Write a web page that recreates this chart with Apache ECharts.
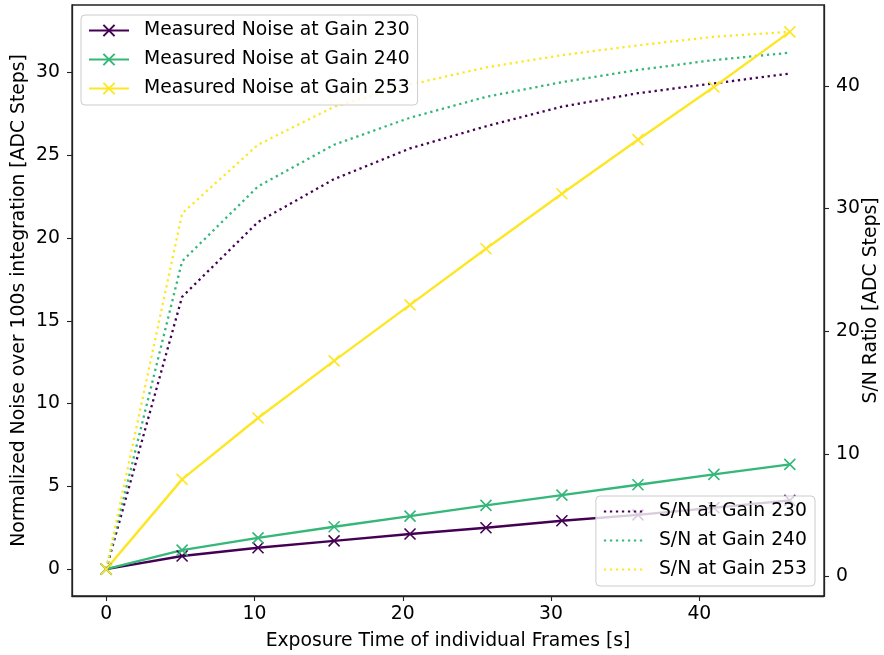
<!DOCTYPE html>
<html>
<head>
<meta charset="utf-8">
<script src="https://cdn.jsdelivr.net/npm/echarts@6/dist/echarts.min.js"></script>
<style>
html,body{margin:0;padding:0;background:#fff;}
#chart{width:884px;height:655px;}
</style>
</head>
<body>
<div id="chart"></div>
<script>
// ---- data ----
const exposureTime = [0, 5.12, 10.24, 15.37, 20.49, 25.61, 30.73, 35.86, 40.98, 46.1];
const noiseGain230 = [0, 0.79, 1.29, 1.71, 2.12, 2.50, 2.92, 3.28, 3.71, 4.15];
const noiseGain240 = [0, 1.15, 1.89, 2.56, 3.20, 3.85, 4.47, 5.10, 5.72, 6.33];
const noiseGain253 = [0, 5.42, 9.13, 12.58, 15.96, 19.35, 22.67, 25.94, 29.12, 32.45];
const snGain230 = [0.6, 22.8, 28.9, 32.4, 34.9, 36.7, 38.3, 39.4, 40.2, 41.0];
const snGain240 = [0.6, 25.7, 31.8, 35.2, 37.4, 39.1, 40.3, 41.3, 42.1, 42.7];
const snGain253 = [0.6, 29.6, 35.2, 38.3, 40.1, 41.5, 42.5, 43.3, 44.0, 44.4];
const xTicks = [0, 10, 20, 30, 40];
const yLeftTicks = [0, 5, 10, 15, 20, 25, 30];
const yRightTicks = [0, 10, 20, 30, 40];
const noiseNames = ['Measured Noise at Gain 230', 'Measured Noise at Gain 240', 'Measured Noise at Gain 253'];
const snNames = ['S/N at Gain 230', 'S/N at Gain 240', 'S/N at Gain 253'];
const colors = ['#440154', '#35b779', '#fde725'];

// ---- helpers ----
function pairs(xs, ys) { return xs.map((x, i) => [x, ys[i]]); }
function padRange(vals) {
  const lo = Math.min(...vals), hi = Math.max(...vals), r = hi - lo;
  return [lo - 0.05 * r, hi + 0.05 * r];
}
const xr = padRange(exposureTime);
const yl = padRange([].concat(noiseGain230, noiseGain240, noiseGain253));
const yr = padRange([].concat(snGain230, snGain240, snGain253));

const FONT = 'DejaVu Sans';
const FS = 18.8;
const axisCol = '#222';
const xMarker = 'path://M0,0L10,10M10,0L0,10';

function noiseSeries(name, vals, c) {
  return {
    name: name, type: 'line', xAxisIndex: 0, yAxisIndex: 0,
    data: pairs(exposureTime, vals),
    symbol: xMarker, symbolSize: 11, showSymbol: true,
    lineStyle: { color: c, width: 2.4 },
    itemStyle: { color: c, borderColor: c, borderWidth: 1.6 },
    emphasis: { disabled: true }, animation: false, z: 3
  };
}
function snSeries(name, vals, c) {
  return {
    name: name, type: 'line', xAxisIndex: 0, yAxisIndex: 1,
    data: pairs(exposureTime, vals),
    symbol: 'none', showSymbol: false,
    lineStyle: { color: c, width: 2.3, type: [2.3, 3.7], cap: 'butt' },
    itemStyle: { color: c },
    emphasis: { disabled: true }, animation: false, z: 2
  };
}

const legendCommon = {
  orient: 'vertical',
  itemWidth: 40, itemHeight: 14, itemGap: 10,
  backgroundColor: 'rgba(255,255,255,0.8)',
  borderColor: '#cccccc', borderWidth: 1, borderRadius: 4,
  textStyle: { fontFamily: FONT, fontSize: FS, color: '#000', padding: [0, 0, 0, 10], lineHeight: 18 },
  selectedMode: false
};

const option = {
  animation: false,
  backgroundColor: '#fff',
  grid: { left: 72, right: 60, top: 5, bottom: 59, show: true, borderColor: axisCol, borderWidth: 1.3, containLabel: false, outerBoundsMode: 'none' },
  textStyle: { fontFamily: FONT },
  legend: [
    Object.assign({}, legendCommon, {
      data: noiseNames, left: 81, top: 15, padding: [6, 8, 7, 7]
    }),
    Object.assign({}, legendCommon, {
      data: snNames.map(n => ({ name: n, itemStyle: { opacity: 0 } })),
      right: 69, bottom: 69, padding: [6, 8, 7, 7]
    })
  ],
  xAxis: [{
    type: 'value', min: xr[0], max: xr[1],
    name: 'Exposure Time of individual Frames [s]', nameLocation: 'middle', nameGap: 36,
    nameMoveOverlap: false,
    nameTextStyle: { fontFamily: FONT, fontSize: FS, color: '#000' },
    axisLine: { show: true, onZero: false, lineStyle: { color: axisCol, width: 1.3 } },
    axisTick: { show: true, length: 5, lineStyle: { color: axisCol, width: 1.1 }, customValues: xTicks },
    axisLabel: { fontFamily: FONT, fontSize: FS, color: '#000', margin: 9, customValues: xTicks },
    splitLine: { show: false }
  }],
  yAxis: [{
    type: 'value', position: 'left', min: yl[0], max: yl[1],
    name: 'Normalized Noise over 100s integration [ADC Steps]', nameLocation: 'middle', nameGap: 43,
    nameMoveOverlap: false,
    nameTextStyle: { fontFamily: FONT, fontSize: FS, color: '#000' },
    axisLine: { show: true, onZero: false, lineStyle: { color: axisCol, width: 1.3 } },
    axisTick: { show: true, length: 5, lineStyle: { color: axisCol, width: 1.1 }, customValues: yLeftTicks },
    axisLabel: { fontFamily: FONT, fontSize: FS, color: '#000', margin: 12, customValues: yLeftTicks },
    splitLine: { show: false }
  }, {
    type: 'value', position: 'right', min: yr[0], max: yr[1],
    name: 'S/N Ratio [ADC Steps]', nameLocation: 'middle', nameGap: 38,
    nameMoveOverlap: false,
    nameTextStyle: { fontFamily: FONT, fontSize: FS, color: '#000' },
    axisLine: { show: true, onZero: false, lineStyle: { color: axisCol, width: 1.3 } },
    axisTick: { show: true, length: 5, lineStyle: { color: axisCol, width: 1.1 }, customValues: yRightTicks },
    axisLabel: { fontFamily: FONT, fontSize: FS, color: '#000', margin: 12, customValues: yRightTicks },
    splitLine: { show: false }
  }],
  series: [
    noiseSeries(noiseNames[0], noiseGain230, colors[0]),
    noiseSeries(noiseNames[1], noiseGain240, colors[1]),
    noiseSeries(noiseNames[2], noiseGain253, colors[2]),
    snSeries(snNames[0], snGain230, colors[0]),
    snSeries(snNames[1], snGain240, colors[1]),
    snSeries(snNames[2], snGain253, colors[2])
  ]
};

const chart = echarts.init(document.getElementById('chart'), null, { renderer: 'canvas' });
chart.setOption(option);
</script>
</body>
</html>
